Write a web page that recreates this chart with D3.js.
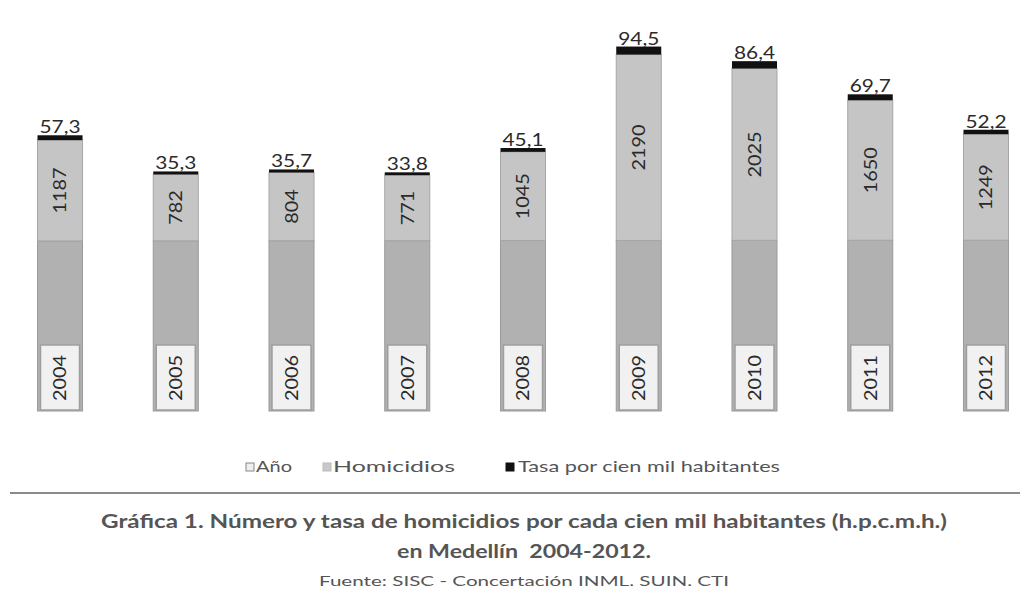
<!DOCTYPE html>
<html>
<head>
<meta charset="utf-8">
<script src="https://cdn.jsdelivr.net/npm/d3@7"></script>
<style>
  html, body { margin: 0; padding: 0; background: #ffffff; }
  svg { display: block; font-family: Lato, "Open Sans", sans-serif; }
</style>
</head>
<body>
<svg id="chart" width="1026" height="606"></svg>
<script>
// Homicidios en Medellín 2004-2012
const years = ["2004", "2005", "2006", "2007", "2008", "2009", "2010", "2011", "2012"];
const anio = [2004, 2005, 2006, 2007, 2008, 2009, 2010, 2011, 2012];
const homicidios = [1187, 782, 804, 771, 1045, 2190, 2025, 1650, 1249];
const tasa = [57.3, 35.3, 35.7, 33.8, 45.1, 94.5, 86.4, 69.7, 52.2];
const seriesNames = ["Año", "Homicidios", "Tasa por cien mil habitantes"];

const rows = years.map((y, i) => ({ year: y, anio: anio[i], homicidios: homicidios[i], tasa: tasa[i] }));
const keys = ["anio", "homicidios", "tasa"];
const stacked = d3.stack().keys(keys)(rows);

const svg = d3.select("#chart");

const x = d3.scaleBand().domain(years).range([0, 1046]).paddingInner(0.611).paddingOuter(0.324);
const y = d3.scaleLinear().domain([0, 4300]).range([411, 46]);

const fills = { anio: "#b1b1b1", homicidios: "#c5c5c5", tasa: "#111111" };
const strokes = { anio: "#9a9a9a", homicidios: "#a6a6a6", tasa: "#111111" };

// stacked segments
const layers = svg.append("g").selectAll("g")
  .data(stacked).join("g");

layers.selectAll("rect")
  .data(d => d.map(s => ({ key: d.key, s })))
  .join("rect")
  .attr("x", d => x(d.s.data.year))
  .attr("width", x.bandwidth())
  .attr("y", d => y(d.s[1]))
  .attr("height", d => y(d.s[0]) - y(d.s[1]))
  .attr("fill", d => fills[d.key])
  .attr("stroke", d => strokes[d.key])
  .attr("stroke-width", d => d.key === "tasa" ? 0 : 1);

// year labels in boxed tags at the base of each bar
const boxH = 66, inset = 3;
const yearG = svg.append("g");
yearG.selectAll("rect")
  .data(rows).join("rect")
  .attr("x", d => x(d.year) + inset)
  .attr("width", x.bandwidth() - 2 * inset)
  .attr("y", y(0) - boxH)
  .attr("height", boxH - 1)
  .attr("fill", "#f1f1f1")
  .attr("stroke", "#9e9e9e")
  .attr("stroke-width", 1.5);

yearG.selectAll("text")
  .data(rows).join("text")
  .attr("transform", d => `translate(${x(d.year) + x.bandwidth() / 2},${y(0) - boxH / 2}) rotate(-90)`)
  .attr("text-anchor", "middle")
  .attr("dy", "0.35em")
  .attr("font-size", 18)
  .attr("textLength", 46)
  .attr("lengthAdjust", "spacingAndGlyphs")
  .attr("fill", "#2a2a2a")
  .text(d => d.anio);

// homicide counts, centred in their segment
svg.append("g").selectAll("text")
  .data(stacked[1]).join("text")
  .attr("transform", d => `translate(${x(d.data.year) + x.bandwidth() / 2},${(y(d[0]) + y(d[1])) / 2}) rotate(-90)`)
  .attr("text-anchor", "middle")
  .attr("dy", "0.35em")
  .attr("font-size", 18)
  .attr("textLength", d => String(d.data.homicidios).length * 11.5)
  .attr("lengthAdjust", "spacingAndGlyphs")
  .attr("fill", "#2a2a2a")
  .text(d => d.data.homicidios);

// rate labels above the bars
const fmt = v => d3.format(".1f")(v).replace(".", ",");
svg.append("g").selectAll("text")
  .data(stacked[2]).join("text")
  .attr("x", d => x(d.data.year) + x.bandwidth() / 2)
  .attr("y", d => y(d[1]) - 2)
  .attr("text-anchor", "middle")
  .attr("font-size", 18)
  .attr("textLength", 41)
  .attr("lengthAdjust", "spacingAndGlyphs")
  .attr("fill", "#2a2a2a")
  .text(d => fmt(d.data.tasa));

// legend
const legendItems = [
  { name: seriesNames[0], mx: 246, tx: 256, tl: 36, fill: "#efefef", stroke: "#888" },
  { name: seriesNames[1], mx: 323, tx: 333, tl: 122, fill: "#c8c8c8", stroke: "#bbb" },
  { name: seriesNames[2], mx: 506, tx: 518, tl: 262, fill: "#111", stroke: "#111" }
];
const lg = svg.append("g");
lg.selectAll("rect").data(legendItems).join("rect")
  .attr("x", d => d.mx).attr("y", 463)
  .attr("width", 8).attr("height", 8)
  .attr("fill", d => d.fill).attr("stroke", d => d.stroke).attr("stroke-width", 1);
lg.selectAll("text").data(legendItems).join("text")
  .attr("x", d => d.tx).attr("y", 472)
  .attr("font-size", 15)
  .attr("textLength", d => d.tl)
  .attr("lengthAdjust", "spacingAndGlyphs")
  .attr("fill", "#555")
  .text(d => d.name);

// separator rule
svg.append("line")
  .attr("x1", 10).attr("x2", 1020)
  .attr("y1", 493).attr("y2", 493)
  .attr("stroke", "#8a8a8a").attr("stroke-width", 2);

// caption
const caption = [
  { t: "Gráfica 1. Número y tasa de homicidios por cada cien mil habitantes (h.p.c.m.h.)", y: 528, size: 18, w: 846, weight: 700 },
  { t: "en Medellín\u00a0\u00a02004-2012.", y: 558, size: 18, w: 254, weight: 700 },
  { t: "Fuente: SISC - Concertación INML. SUIN. CTI", y: 586, size: 14, w: 410, weight: 400 }
];
svg.append("g").selectAll("text").data(caption).join("text")
  .attr("x", 524).attr("y", d => d.y)
  .attr("text-anchor", "middle")
  .attr("font-size", d => d.size)
  .attr("font-weight", d => d.weight)
  .attr("textLength", d => d.w)
  .attr("lengthAdjust", "spacingAndGlyphs")
  .attr("fill", "#555")
  .text(d => d.t);
</script>
</body>
</html>
